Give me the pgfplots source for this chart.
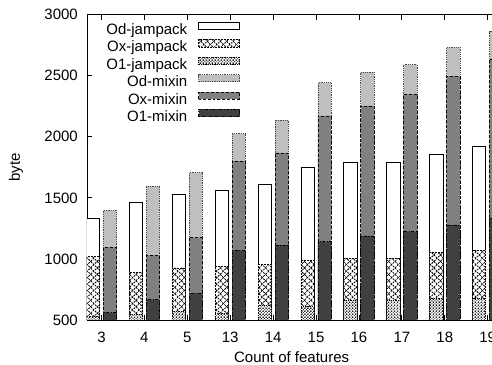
\documentclass[border=0pt]{standalone}
\usepackage{pgfplots}
\pgfplotsset{compat=1.18}
\usetikzlibrary{patterns}
\usepackage{fontspec}
\setmainfont{Liberation Sans}

\pgfdeclarepatternformonly{bigcross}{\pgfqpoint{-1pt}{-1pt}}{\pgfqpoint{7.5pt}{7.5pt}}{\pgfqpoint{6.5pt}{6.5pt}}{%
  \pgfsetlinewidth{0.8pt}%
  \pgfpathmoveto{\pgfqpoint{0pt}{0pt}}\pgfpathlineto{\pgfqpoint{6.5pt}{6.5pt}}%
  \pgfpathmoveto{\pgfqpoint{0pt}{6.5pt}}\pgfpathlineto{\pgfqpoint{6.5pt}{0pt}}%
  \pgfusepath{stroke}}
\pgfdeclarepatternformonly{smallcross}{\pgfqpoint{-1pt}{-1pt}}{\pgfqpoint{4pt}{4pt}}{\pgfqpoint{3pt}{3pt}}{%
  \pgfsetlinewidth{0.6pt}%
  \pgfpathmoveto{\pgfqpoint{0pt}{0pt}}\pgfpathlineto{\pgfqpoint{3pt}{3pt}}%
  \pgfpathmoveto{\pgfqpoint{0pt}{3pt}}\pgfpathlineto{\pgfqpoint{3pt}{0pt}}%
  \pgfusepath{stroke}}

\definecolor{lg}{gray}{0.75}
\definecolor{mg}{gray}{0.5}
\definecolor{dg}{gray}{0.25}

\begin{document}
\begin{tikzpicture}[font=\fontsize{15bp}{18bp}\selectfont]
\begin{scope}
\clip (-87bp,-45bp) rectangle (405bp,320bp);
\begin{axis}[
  scale only axis, width=409.3bp, height=305.3bp,
  xmin=-0.338, xmax=9.2, ymin=500, ymax=3000,
  ybar, bar width=0.31,
  xtick={0,...,9}, xticklabels={3,4,5,13,14,15,16,17,18,19},
  ytick={500,1000,...,3000},
  tick align=inside, major tick length=5bp,
  axis line style={line width=0.8bp},
  every tick/.style={line width=0.8bp, black},
  xticklabel style={inner sep=0pt, yshift=-11.7bp},
  yticklabel style={inner sep=0pt, xshift=-9bp},
  xlabel={Count of features},
  ylabel={byte},
  every axis x label/.style={at={(axis description cs:0.5,-0.121)}, anchor=center},
  every axis y label/.style={at={(axis description cs:-0.1735,0.5)}, anchor=center, rotate=90},
  legend cell align=right,
  legend plot pos=right,
  legend style={draw=none, fill=none, inner sep=0pt, outer sep=0pt, row sep=0pt, column sep=11bp,
    at={(axis description cs:0.3738,0.9768)}, anchor=north east,
    nodes={inner sep=0pt, text height=10.5bp, text depth=5bp}},
  legend image code/.code={\draw[#1] (0bp,2bp) rectangle (41bp,9.3bp);},
  /pgf/number format/1000 sep={},
  /pgf/number format/assume math mode=true,
]
% jampack
\addplot[bar shift=-0.198, draw=black, line width=0.8bp, fill=white] coordinates {
 (0,1335) (1,1464) (2,1532) (3,1565) (4,1611) (5,1753) (6,1788) (7,1788) (8,1854) (9,1919)};
\addlegendentry{Od-jampack}
\addplot[bar shift=-0.198, draw=black, line width=0.8bp, dash pattern=on 2pt off 1pt, fill=white, postaction={pattern=bigcross}] coordinates {
 (0,1018) (1,891) (2,926) (3,937) (4,956) (5,986) (6,1005) (7,1005) (8,1054) (9,1071)};
\addlegendentry{Ox-jampack}
\addplot[bar shift=-0.198, draw=black, line width=0.8bp, densely dotted, fill=white, postaction={pattern=smallcross}] coordinates {
 (0,527) (1,547) (2,568) (3,555) (4,617) (5,615) (6,660) (7,662) (8,678) (9,680)};
\addlegendentry{O1-jampack}
% mixin
\addplot[bar shift=0.198, draw=black!70, line width=0.8bp, densely dotted, fill=lg] coordinates {
 (0,1398) (1,1597) (2,1706) (3,2026) (4,2136) (5,2443) (6,2529) (7,2591) (8,2733) (9,2861)};
\addlegendentry{Od-mixin}
\addplot[bar shift=0.198, draw=black, line width=0.8bp, dash pattern=on 3pt off 2pt, fill=mg] coordinates {
 (0,1095) (1,1030) (2,1174) (3,1800) (4,1868) (5,2171) (6,2253) (7,2348) (8,2496) (9,2638)};
\addlegendentry{Ox-mixin}
\addplot[bar shift=0.198, draw=black, line width=0.8bp, dash pattern=on 3pt off 1.5pt on 1pt off 1.5pt, fill=dg] coordinates {
 (0,560) (1,666) (2,719) (3,1071) (4,1114) (5,1141) (6,1188) (7,1223) (8,1278) (9,1335)};
\addlegendentry{O1-mixin}
\end{axis}
\end{scope}
\pgfresetboundingbox
\path[use as bounding box] (-87bp,-45bp) rectangle (405bp,320bp);
\end{tikzpicture}
\end{document}
